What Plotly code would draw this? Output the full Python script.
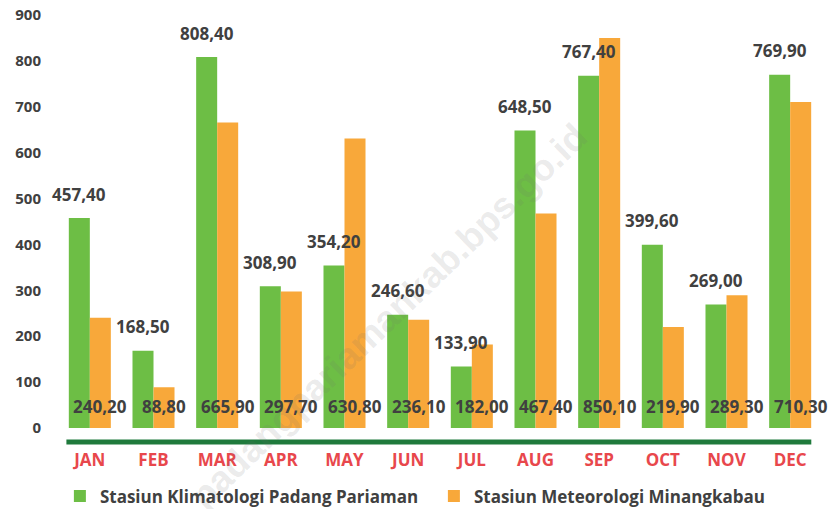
import plotly.graph_objects as go

months = ["JAN", "FEB", "MAR", "APR", "MAY", "JUN", "JUL", "AUG", "SEP", "OCT", "NOV", "DEC"]
klimatologi = [457.4, 168.5, 808.4, 308.9, 354.2, 246.6, 133.9, 648.5, 767.4, 399.6, 269.0, 769.9]
meteorologi = [240.2, 88.8, 665.9, 297.7, 630.8, 236.1, 182.0, 467.4, 850.1, 219.9, 289.3, 710.3]
y_ticks = [0, 100, 200, 300, 400, 500, 600, 700, 800, 900]
name_a = "Stasiun Klimatologi Padang Pariaman"
name_b = "Stasiun Meteorologi Minangkabau"
watermark = "padangpariamankab.bps.go.id"

GREEN = "#6dbe45"
ORANGE = "#f8a83a"
DARK = "#404040"
RED = "#e8474c"
FONT = "Open Sans"
W = 0.33

ML, MR, MT, MB = 58, 16, 15, 81
PW = 838 - ML - MR
PH = 509 - MT - MB


def fmt(v):
    return f"{v:.2f}".replace(".", ",")


xs = list(range(len(months)))

fig = go.Figure()
fig.add_trace(go.Bar(x=xs, y=klimatologi, name=name_a, marker_color=GREEN,
                     width=W, offset=-W, marker_line_width=0))
fig.add_trace(go.Bar(x=xs, y=meteorologi, name=name_b, marker_color=ORANGE,
                     width=W, offset=0, marker_line_width=0))

annotations = []
for i, v in enumerate(klimatologi):
    annotations.append(dict(x=i - W / 2, y=v, xref="x", yref="y", text=fmt(v),
                            showarrow=False, yanchor="middle", yshift=24,
                            font=dict(family=FONT, size=17, color=DARK, weight="bold")))
for i, v in enumerate(meteorologi):
    annotations.append(dict(x=i + W / 2, y=0, xref="x", yref="y", text=fmt(v),
                            showarrow=False, yanchor="middle", yshift=22,
                            font=dict(family=FONT, size=17, color=DARK, weight="bold")))
annotations.append(dict(x=(388 - ML) / PW, y=(MT + PH - 316) / PH, xref="paper", yref="paper",
                        xanchor="center", yanchor="middle",
                        text=watermark, showarrow=False, textangle=-44,
                        font=dict(family="Liberation Sans", size=37,
                                  color="rgba(110,110,110,0.14)", weight="bold")))

fig.update_layout(
    width=838, height=509,
    margin=dict(l=ML, r=MR, t=MT, b=MB, autoexpand=False),
    paper_bgcolor="white", plot_bgcolor="white",
    barmode="overlay",
    showlegend=True,
    legend=dict(orientation="h", x=0.492, xanchor="center", y=-0.122, yanchor="top",
                font=dict(family=FONT, size=17, color=DARK, weight="bold"),
                entrywidth=329, entrywidthmode="pixels", itemwidth=30,
                tracegroupgap=0),
    xaxis=dict(range=[-0.5, 11.5], tickvals=xs, ticktext=months, showgrid=False,
               zeroline=False, showline=False, ticks="", ticklabelstandoff=20,
               tickfont=dict(family=FONT, size=17, color=RED, weight="bold"), fixedrange=True),
    yaxis=dict(range=[0, 900], tickvals=y_ticks, showgrid=False, zeroline=False,
               showline=False, ticks="", ticklabelstandoff=16,
               tickfont=dict(family=FONT, size=15, color=DARK, weight="bold"), fixedrange=True),
    annotations=annotations,
    shapes=[dict(type="line", xref="paper", yref="paper", x0=0.011, x1=0.986,
                 y0=-0.034, y1=-0.034, line=dict(color="#1f7a3c", width=5))],
)

fig.write_html("out.html", config={"displayModeBar": False},
               post_script="document.body.style.margin='0';")
